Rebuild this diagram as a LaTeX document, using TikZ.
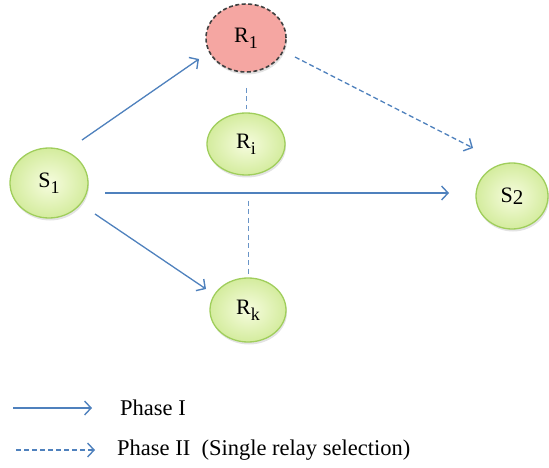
\documentclass[tikz,border=0pt]{standalone}
\usepackage{fontspec}
\setmainfont{Liberation Serif}
\usetikzlibrary{arrows.meta,shapes.geometric,shadows}
\definecolor{edgeblue}{RGB}{79,129,189}
\definecolor{nodeedge}{RGB}{160,206,92}
\definecolor{nodein}{RGB}{246,252,222}
\definecolor{nodeout}{RGB}{212,236,158}
\definecolor{relaypink}{RGB}{245,166,162}
\newcommand{\lowidx}[2]{\raisebox{#1}{\fontsize{18}{18}\selectfont #2}}
\begin{document}
\begin{tikzpicture}[x=1pt,y=-1pt,
  station/.style={ellipse, draw=nodeedge, line width=1.3pt, shading=radial,
    inner color=nodein, outer color=nodeout, inner sep=0pt,
    font=\fontsize{22}{22}\selectfont,
    drop shadow={shadow xshift=1pt, shadow yshift=-2.5pt, opacity=0.22}},
  chosen/.style={ellipse, draw=black!75, line width=1.6pt,
    dash pattern=on 4pt off 2.5pt, fill=relaypink, inner sep=0pt,
    font=\fontsize{22}{22}\selectfont,
    drop shadow={shadow xshift=1pt, shadow yshift=-2.5pt, opacity=0.22}},
  phaseone/.style={edgeblue, line width=1.3pt,
    -{Straight Barb[length=6.5pt,width=14pt,line width=1.4pt]}},
  phasetwo/.style={phaseone, dash pattern=on 5pt off 3pt},
  link/.style={edgeblue!85, line width=1pt, dash pattern=on 5pt off 3.5pt},
  legendtext/.style={anchor=west, inner sep=0pt, font=\fontsize{22.5}{22.5}\selectfont}]
\useasboundingbox (0,0) rectangle (549,468);

% nodes
\node[chosen, minimum width=80pt, minimum height=68pt] (R1) at (246,38) {R\lowidx{-6pt}{1}};
\node[station, minimum width=78pt, minimum height=70pt] (S1) at (49,183) {S\lowidx{-6pt}{1}};
\node[station, minimum width=78pt, minimum height=62pt] (Ri) at (246,144) {R\lowidx{-6pt}{i}};
\node[station, minimum width=72pt, minimum height=66pt] (S2) at (512,196) {S\lowidx{-2pt}{\fontsize{21}{21}\selectfont 2}};
\node[station, minimum width=76pt, minimum height=64pt] (Rk) at (248,310) {R\lowidx{-6pt}{k}};

% arrow end points
\coordinate (a1s) at (82,140);  \coordinate (a1e) at (199,59);
\coordinate (a2s) at (105,193); \coordinate (a2e) at (449,193);
\coordinate (a3s) at (95,214);  \coordinate (a3e) at (206,289);
\coordinate (b1s) at (295,57);  \coordinate (b1e) at (473,148);

% phase I transmissions
\draw[phaseone] (a1s) -- (a1e);
\draw[phaseone] (a2s) -- (a2e);
\draw[phaseone] (a3s) -- (a3e);
% phase II transmission
\draw[phasetwo] (b1s) -- (b1e);

% relay column links
\draw[link, shorten <=15pt, shorten >=3pt] (R1.south) -- (Ri.north);
\draw[link, shorten <=25pt, shorten >=2pt] ([xshift=2pt]Ri.south) -- (Rk.north);

% legend
\coordinate (l1s) at (13,408); \coordinate (l1e) at (92,408);
\coordinate (l2s) at (16,450); \coordinate (l2e) at (95,450);
\draw[phaseone] (l1s) -- (l1e);
\draw[phasetwo] (l2s) -- (l2e);
\node[legendtext] (t1) at (120,408) {Phase I};
\node[legendtext] (t2) at (117,450) {Phase II\enspace(Single relay selection)};
\end{tikzpicture}
\end{document}
